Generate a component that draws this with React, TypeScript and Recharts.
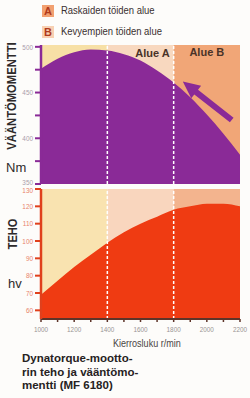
import { AreaChart, Area, XAxis, YAxis, ReferenceArea, ReferenceLine } from "recharts";

// rpm grid and the two curves
const rpm = [1000, 1100, 1200, 1300, 1400, 1500, 1600, 1700, 1800, 1900, 2000, 2100, 2200];
const torqueNm = [476, 487, 494, 497, 496, 492, 485, 474, 461, 445, 426, 405, 382];
const powerHv = [69, 77, 85, 92, 99, 105, 110, 114, 118, 120, 121.5, 121.5, 120];

const zoneEdges = [1000, 1400, 1800, 2200];
const rpmTicks = [1000, 1100, 1200, 1300, 1400, 1500, 1600, 1700, 1800, 1900, 2000, 2100, 2200];
const torqueTicks = [350, 375, 400, 425, 450, 475, 500];
const powerTicks = [60, 70, 80, 90, 100, 110, 120, 130];

// arrow annotation (data coords): tail -> tip
const arrowTail = { x: 2150, y: 420 };
const arrowTip = { x: 1855, y: 462 };

const data = rpm.map((r, i) => ({ rpm: r, torque: torqueNm[i], power: powerHv[i] }));

const PURPLE = "#8a2a97";
const RED = "#ef3b12";
const SANS = "'Liberation Sans', Arial, sans-serif";

const topZones = ["#f7e0a6", "#f8d8bf", "#f1a677"];
const bottomZones = ["#f9e3b0", "#f9d6be", "#f3b48e"];

function ArrowShape(props: any) {
  const { x1, y1, x2, y2 } = props;
  const dx = x2 - x1;
  const dy = y2 - y1;
  const len = Math.hypot(dx, dy) || 1;
  const ux = dx / len;
  const uy = dy / len;
  const px = -uy;
  const py = ux;
  const head = 17;
  const hw = 8;
  const sw = 3;
  const bx = x2 - ux * head;
  const by = y2 - uy * head;
  const pts = [
    [x1 + px * sw, y1 + py * sw],
    [bx + px * sw, by + py * sw],
    [bx + px * hw, by + py * hw],
    [x2, y2],
    [bx - px * hw, by - py * hw],
    [bx - px * sw, by - py * sw],
    [x1 - px * sw, y1 - py * sw],
  ];
  return <polygon points={pts.map((p) => p.join(",")).join(" ")} fill={PURPLE} />;
}

// y tick with a small nudge so the 350 / 130 labels don't collide
function makeTick(color: string, nudge: Record<number, number>, every: number) {
  return (props: any) => {
    const { x, y, payload } = props;
    const v = payload.value;
    if (v % every !== 0) return <g />;
    return (
      <text
        x={x}
        y={y + (nudge[v] || 0)}
        textAnchor="end"
        dominantBaseline="central"
        fill={color}
        fontSize={7.5}
        fontFamily={SANS}
        transform={`translate(${x},0) scale(0.85,1) translate(${-x},0)`}
      >
        {v}
      </text>
    );
  };
}

function RpmTick(props: any) {
  const { x, y, payload } = props;
  const v = payload.value;
  if (v % 200 !== 0) return <g />;
  return (
    <text
      x={x}
      y={y + 4}
      textAnchor="middle"
      dominantBaseline="central"
      fill="#9a9494"
      fontSize={7.5}
      fontFamily={SANS}
      transform={`translate(${x},0) scale(0.85,1) translate(${-x},0)`}
    >
      {v}
    </text>
  );
}

const zoneLabel = (value: string, position: any, offset: number) => ({
  value,
  position,
  offset,
  fill: "#4a3328",
  fontSize: 11,
  fontWeight: 700,
  fontFamily: SANS,
});

const narrow = { transform: "scaleX(0.86)", transformOrigin: "0 0", whiteSpace: "nowrap" as const };

export default function App() {
  return (
    <div
      style={{
        position: "absolute",
        left: 0,
        top: 0,
        width: 250,
        height: 398,
        background: "#fdfcfa",
        fontFamily: SANS,
        overflow: "hidden",
      }}
    >
      {/* legend */}
      <div style={{ position: "absolute", left: 42, top: 5, width: 12, height: 12, background: "#f2a070", color: "#b03a1c", fontWeight: 700, fontSize: 11, lineHeight: "12px", textAlign: "center" }}>A</div>
      <div style={{ position: "absolute", left: 61, top: 4, fontSize: 11, color: "#3a3030", ...narrow }}>Raskaiden töiden alue</div>
      <div style={{ position: "absolute", left: 42, top: 26, width: 12, height: 12, background: "#f8d0b2", color: "#b03a1c", fontWeight: 700, fontSize: 11, lineHeight: "12px", textAlign: "center" }}>B</div>
      <div style={{ position: "absolute", left: 61, top: 25, fontSize: 11, color: "#3a3030", ...narrow }}>Kevyempien töiden alue</div>

      {/* axis titles */}
      <div style={{ position: "absolute", left: 12, top: 96, transform: "translate(-50%, -50%) rotate(-90deg) scaleX(0.9)", whiteSpace: "nowrap", fontWeight: 700, fontSize: 12.5, color: "#2e2a2a" }}>VÄÄNTÖMOMENTTI</div>
      <div style={{ position: "absolute", left: 6, top: 160, fontSize: 13, color: "#2e2a2a" }}>Nm</div>
      <div style={{ position: "absolute", left: 12, top: 234, transform: "translate(-50%, -50%) rotate(-90deg) scaleX(0.85)", whiteSpace: "nowrap", fontWeight: 700, fontSize: 13, color: "#2e2a2a" }}>TEHO</div>
      <div style={{ position: "absolute", left: 8, top: 276, fontSize: 13, color: "#2e2a2a" }}>hv</div>

      {/* torque chart */}
      <div style={{ position: "absolute", left: 0, top: 0 }}>
        <AreaChart width={250} height={190} data={data} margin={{ top: 45, right: 10, bottom: 6, left: 0 }}>
          <XAxis type="number" dataKey="rpm" domain={[1000, 2200]} hide />
          <YAxis
            type="number"
            domain={[350, 502]}
            allowDataOverflow
            ticks={torqueTicks}
            interval={0}
            width={41}
            tick={makeTick("#ab9dab", { 350: -2 }, 50)}
            tickSize={6}
            tickMargin={2}
            tickLine={{ stroke: PURPLE, strokeWidth: 2 }}
            axisLine={{ stroke: PURPLE, strokeWidth: 2.5 }}
          />
          {topZones.map((c, i) => (
            <ReferenceArea
              key={i}
              x1={zoneEdges[i]}
              x2={zoneEdges[i + 1]}
              y1={350}
              y2={502}
              fill={c}
              fillOpacity={1}
              stroke="none"
              label={i === 1 ? zoneLabel("Alue A", "insideTopRight", 4) : i === 2 ? zoneLabel("Alue B", "insideTop", 3) : undefined}
            />
          ))}
          <Area type="monotone" dataKey="torque" fill={PURPLE} fillOpacity={1} stroke="none" isAnimationActive={false} />
          <ReferenceLine x={1400} stroke="#ffffff" strokeWidth={1.5} strokeDasharray="3 2" />
          <ReferenceLine x={1800} stroke="#ffffff" strokeWidth={1.5} strokeDasharray="3 2" />
          <ReferenceLine segment={[arrowTail, arrowTip]} shape={ArrowShape} ifOverflow="visible" />
        </AreaChart>
      </div>

      {/* power chart */}
      <div style={{ position: "absolute", left: 0, top: 180 }}>
        <AreaChart width={250} height={160} data={data} margin={{ top: 9, right: 10, bottom: 0, left: 0 }}>
          <XAxis
            type="number"
            dataKey="rpm"
            domain={[1000, 2200]}
            ticks={rpmTicks}
            interval={0}
            height={21}
            tick={RpmTick}
            tickSize={3}
            tickMargin={3}
            tickLine={{ stroke: "#5e3429", strokeWidth: 1.5 }}
            axisLine={{ stroke: "#5e3429", strokeWidth: 2 }}
          />
          <YAxis
            type="number"
            domain={[55, 130]}
            allowDataOverflow
            ticks={powerTicks}
            interval={0}
            width={41}
            tick={makeTick("#e8826c", { 130: 1.5 }, 10)}
            tickSize={6}
            tickMargin={2}
            tickLine={{ stroke: "#e0401c", strokeWidth: 2 }}
            axisLine={{ stroke: "#e0401c", strokeWidth: 2.5 }}
          />
          {bottomZones.map((c, i) => (
            <ReferenceArea key={i} x1={zoneEdges[i]} x2={zoneEdges[i + 1]} y1={55} y2={130} fill={c} fillOpacity={1} stroke="none" />
          ))}
          <Area type="monotone" dataKey="power" fill={RED} fillOpacity={1} stroke="none" isAnimationActive={false} />
          <ReferenceLine x={1400} stroke="#ffffff" strokeWidth={1.5} strokeDasharray="3 2" />
          <ReferenceLine x={1800} stroke="#ffffff" strokeWidth={1.5} strokeDasharray="3 2" />
        </AreaChart>
      </div>

      {/* x axis title and caption */}
      <div style={{ position: "absolute", left: 113, top: 337, fontSize: 10.5, color: "#4a4444", ...narrow }}>Kierrosluku r/min</div>
      <div style={{ position: "absolute", left: 22, top: 352, fontWeight: 700, fontSize: 11.5, lineHeight: "13.5px", color: "#262222" }}>
        Dynatorque-mootto-<br />rin teho ja vääntömo-<br />mentti (MF 6180)
      </div>
    </div>
  );
}
